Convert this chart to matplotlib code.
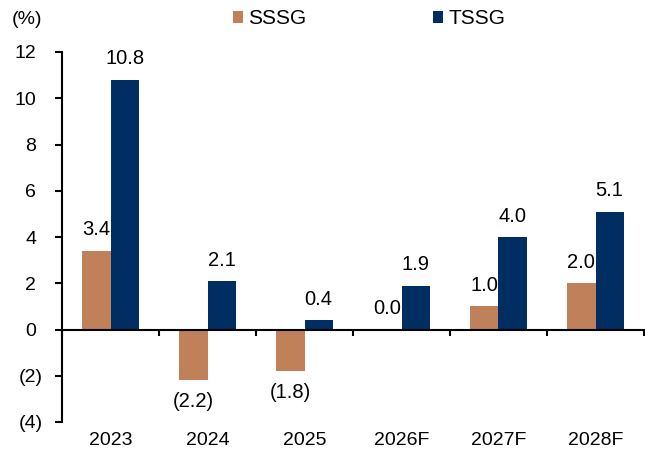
import matplotlib
matplotlib.use("Agg")
import matplotlib.pyplot as plt
import numpy as np

categories = ["2023", "2024", "2025", "2026F", "2027F", "2028F"]
sssg = [3.4, -2.2, -1.8, 0.0, 1.0, 2.0]
tssg = [10.8, 2.1, 0.4, 1.9, 4.0, 5.1]
yticks = [-4, -2, 0, 2, 4, 6, 8, 10, 12]
ytick_labels = ["(4)", "(2)", "0", "2", "4", "6", "8", "10", "12"]

c_sssg = "#C0805A"
c_tssg = "#002D62"

plt.rcParams["font.family"] = ["Liberation Sans", "DejaVu Sans"]
fs_tick = 14
fs_data = 14.5
fs_leg = 15

fig = plt.figure(figsize=(6.45, 4.57), dpi=100)
ax = fig.add_axes([62/645, 1-422/457, (644-62)/645, (422-52)/457])

x = np.arange(len(categories))
w = 0.29
b1 = ax.bar(x - w/2, sssg, w, color=c_sssg, label="SSSG", zorder=2)
b2 = ax.bar(x + w/2, tssg, w, color=c_tssg, label="TSSG", zorder=2)

def fmt(v):
    return f"({abs(v):.1f})" if v < 0 else f"{v:.1f}"

for xs, vals in ((x - w/2, sssg), (x + w/2, tssg)):
    for xi, v in zip(xs, vals):
        off = -14 if v < 0 else 16.5
        ax.annotate(fmt(v), (xi, v), xytext=(0, off), textcoords="offset points",
                    ha="center", va="center_baseline", fontsize=fs_data)

ax.set_xlim(-0.5, len(categories) - 0.5)
ax.set_ylim(-4, 12)
ax.set_yticks(yticks)
ax.set_yticklabels([])
ax.tick_params(axis="y", direction="out", length=5, width=1.5)

# y tick labels in accounting style: positives leave room for ")"
for yv, lab in zip(yticks, ytick_labels):
    off = -13.7 if lab.startswith("(") else -18.7
    ax.annotate(lab, (0, yv), xycoords=("axes fraction", "data"),
                xytext=(off, 0), textcoords="offset points",
                ha="right", va="center_baseline", fontsize=fs_tick,
                annotation_clip=False)

for s in ("top", "right"):
    ax.spines[s].set_visible(False)
ax.spines["left"].set_linewidth(1.5)
ax.spines["bottom"].set_position(("data", 0))
ax.spines["bottom"].set_linewidth(1.5)
ax.spines["bottom"].set_zorder(3)

ax.set_xticks(np.arange(len(categories) + 1) - 0.5)
ax.set_xticklabels([])
ax.tick_params(axis="x", direction="out", length=4, width=1.5)

for xi, c in zip(x, categories):
    ax.annotate(c, (xi, -4), xytext=(0, -7.5), textcoords="offset points",
                ha="center", va="top", fontsize=fs_tick, annotation_clip=False)

fig.text(12/645, 1-20/457, "(%)", fontsize=14, va="center", ha="left")

fig.legend(handles=[b1, b2], labels=["SSSG", "TSSG"], ncol=2, frameon=False,
           loc="center left", bbox_to_anchor=(233/645, 1-19/457),
           borderpad=0, borderaxespad=0, handlelength=0.48, handleheight=0.48,
           handletextpad=0.24, columnspacing=6.1, fontsize=fs_leg)

fig.savefig("out.png", dpi=100)
